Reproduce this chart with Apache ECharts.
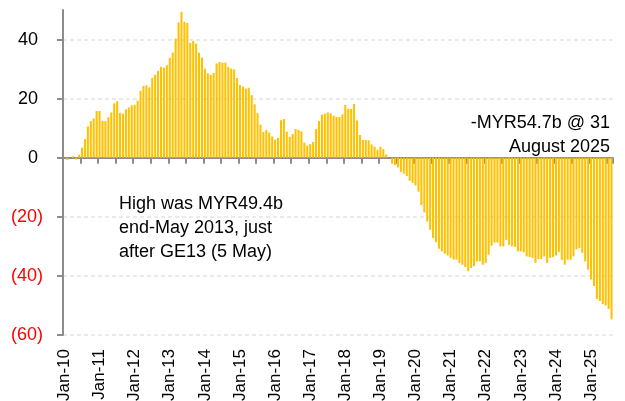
<!DOCTYPE html>
<html>
<head>
<meta charset="utf-8">
<script src="https://cdn.jsdelivr.net/npm/echarts@6/dist/echarts.min.js"></script>
<style>
  html, body { margin: 0; padding: 0; background: #fff; }
  #chart { width: 625px; height: 401px; }
</style>
</head>
<body>
<div id="chart"></div>
<script>
// monthly net position, MYR bn, Jan-2010 .. Aug-2025
var years = [2010, 2011, 2012, 2013, 2014, 2015, 2016, 2017, 2018, 2019, 2020, 2021, 2022, 2023, 2024, 2025];
var monthNames = ["Jan", "Feb", "Mar", "Apr", "May", "Jun", "Jul", "Aug", "Sep", "Oct", "Nov", "Dec"];
var lastMonthCount = 8; // data ends Aug-25

var values = [
  0, -0.8, 0, 0.5, -0.6, 1.0, 3.4, 6.3, 10.6, 12.4, 13.3, 15.8,
  15.8, 12.5, 12.4, 13.7, 15.3, 18.4, 19.1, 15.2, 14.9, 16.4, 17.0, 17.7,
  17.9, 19.3, 22.6, 24.3, 24.5, 23.8, 27.0, 28.1, 29.4, 30.8, 30.5, 31.3,
  33.8, 35.6, 40.3, 45.8, 49.4, 46.0, 45.6, 38.9, 39.5, 38.6, 35.5, 33.9,
  30.2, 28.6, 28.0, 28.7, 31.9, 32.4, 32.1, 32.2, 30.7, 30.2, 29.9, 27.0,
  24.6, 24.1, 23.4, 23.7, 21.2, 18.1, 15.1, 11.2, 8.7, 9.4, 8.5, 7.2,
  6.1, 6.7, 12.7, 13.1, 8.8, 7.1, 8.0, 9.7, 9.4, 8.9, 5.1, 4.1,
  4.6, 5.3, 9.7, 12.4, 14.6, 14.9, 15.3, 15.0, 14.2, 13.8, 13.8, 14.7,
  17.9, 16.6, 16.5, 18.2, 12.6, 7.7, 6.0, 6.0, 5.9, 4.5, 3.7, 2.7,
  3.7, 2.9, 1.1, 0, -2.0, -2.5, -3.3, -4.8, -5.4, -6.2, -7.8, -8.5,
  -9.4, -11.5, -16.0, -18.5, -21.6, -24.4, -27.2, -28.6, -30.8, -31.7, -32.5, -33.1,
  -33.9, -34.5, -34.5, -35.6, -36.2, -37.0, -38.4, -37.3, -36.7, -35.1, -35.1, -36.2,
  -35.6, -32.8, -29.8, -28.7, -28.7, -30.0, -30.0, -27.8, -29.5, -30.0, -30.2, -31.7,
  -31.7, -32.0, -33.4, -33.6, -33.9, -35.6, -34.3, -34.3, -33.4, -35.6, -33.9, -33.6,
  -33.1, -31.9, -34.6, -36.2, -34.5, -34.5, -33.4, -31.0, -30.6, -32.2, -35.1, -37.9,
  -41.2, -43.4, -47.8, -48.5, -49.5, -50.0, -51.2, -54.7
];

var notes = [
  "-MYR54.7b @ 31\nAugust 2025",
  "High was MYR49.4b\nend-May 2013, just\nafter GE13 (5 May)"
];

var categories = [];
years.forEach(function (y, i) {
  var n = i === years.length - 1 ? lastMonthCount : 12;
  for (var m = 0; m < n; m++) {
    categories.push(monthNames[m] + "-" + String(y).slice(2));
  }
});

var font = "'Liberation Sans', Arial, sans-serif";
var chart = echarts.init(document.getElementById("chart"));

chart.setOption({
  backgroundColor: "#fff",
  animation: false,
  grid: { left: 63, right: 12, top: 10, bottom: 66, containLabel: false, outerBoundsMode: "none" },
  xAxis: [
    {
      type: "category",
      data: categories,
      position: "bottom",
      axisLine: { show: false, onZero: false },
      axisTick: { show: false },
      axisLabel: {
        interval: 11,
        rotate: 90,
        margin: 14,
        color: "#000",
        fontSize: 17,
        fontFamily: font
      },
      splitLine: { show: false }
    },
    {
      type: "category",
      data: categories,
      position: "top",
      axisLine: { show: true, onZero: true, lineStyle: { color: "#8c8c8c", width: 2 } },
      axisTick: { show: true, inside: true, interval: 5, length: 6, lineStyle: { color: "#8c8c8c", width: 2 } },
      axisLabel: { show: false },
      splitLine: { show: false }
    }
  ],
  yAxis: {
    type: "value",
    min: -60,
    max: 50,
    interval: 20,
    axisLine: { show: true, lineStyle: { color: "#8c8c8c", width: 2 } },
    axisTick: { show: true, length: 6, lineStyle: { color: "#8c8c8c", width: 2 } },
    axisLabel: {
      showMaxLabel: false,
      margin: 20,
      fontSize: 18,
      fontFamily: font,
      formatter: function (v) {
        return v >= 0 ? v + " " : "(" + Math.abs(v) + ")";
      },
      color: function (v) {
        return Number(v) < 0 ? "#ff0000" : "#000";
      }
    },
    splitLine: {
      show: true,
      showMaxLine: false,
      lineStyle: { color: "#e3e3e3", width: 1.5, type: [4, 3] }
    }
  },
  graphic: [
    {
      type: "text",
      right: 15,
      top: 111,
      style: {
        text: notes[0],
        font: "18px " + font,
        fill: "#000",
        textAlign: "right",
        lineHeight: 24
      }
    },
    {
      type: "text",
      left: 119,
      top: 192,
      style: {
        text: notes[1],
        font: "18px " + font,
        fill: "#000",
        lineHeight: 24
      }
    }
  ],
  series: [
    {
      type: "bar",
      xAxisIndex: 0,
      data: values,
      barWidth: "70%",
      itemStyle: { color: "#FFC000" }
    }
  ]
});
</script>
</body>
</html>
